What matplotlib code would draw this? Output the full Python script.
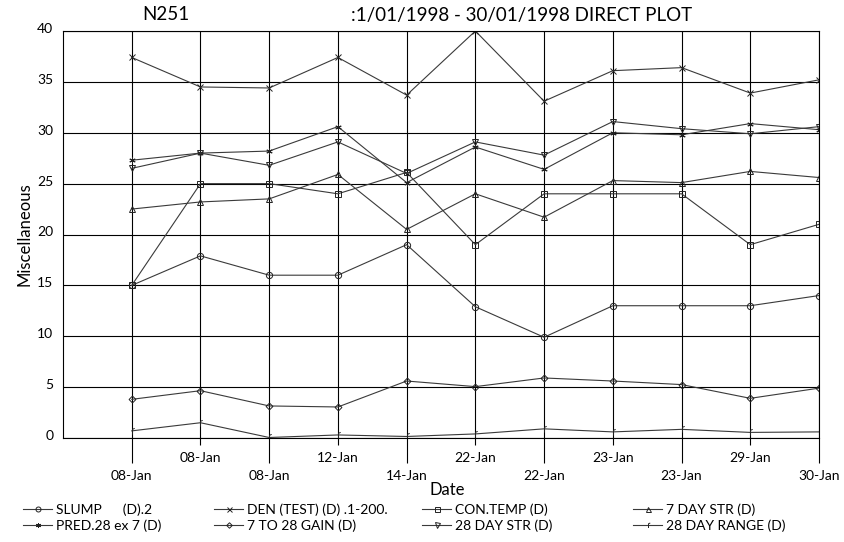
import numpy as np
import matplotlib
matplotlib.use("Agg")
import matplotlib.pyplot as plt
from matplotlib.path import Path
from matplotlib.transforms import ScaledTranslation

plt.rcParams['font.family'] = ['Lato', 'DejaVu Sans']

dates = ["08-Jan", "08-Jan", "08-Jan", "12-Jan", "14-Jan", "22-Jan",
         "22-Jan", "23-Jan", "23-Jan", "29-Jan", "30-Jan"]

slump = [15.0, 17.9, 16.0, 16.0, 19.0, 12.9, 9.9, 13.0, 13.0, 13.0, 14.0]
den_test = [37.4, 34.5, 34.4, 37.4, 33.7, 40.0, 33.1, 36.1, 36.4, 33.9, 35.2]
con_temp = [15.0, 25.0, 25.0, 24.0, 26.1, 19.0, 24.0, 24.0, 24.0, 19.0, 21.0]
str7 = [22.5, 23.2, 23.5, 25.9, 20.5, 24.0, 21.7, 25.3, 25.1, 26.2, 25.6]
pred28 = [27.3, 28.0, 28.2, 30.6, 25.1, 28.6, 26.4, 30.0, 29.8, 30.9, 30.3]
gain = [3.8, 4.65, 3.15, 3.05, 5.6, 5.05, 5.9, 5.6, 5.25, 3.9, 4.9]
str28 = [26.5, 28.0, 26.8, 29.1, 26.0, 29.1, 27.8, 31.1, 30.4, 29.9, 30.6]
range28 = [0.7, 1.5, 0.05, 0.3, 0.15, 0.4, 0.9, 0.6, 0.85, 0.55, 0.6]

# flag-like marker for 28 day range
flag = Path([(0, -1), (0, 0.7), (0.7, 1.0)], [Path.MOVETO, Path.LINETO, Path.LINETO])

series = [
    ("SLUMP      (D).2", slump, "o"),
    ("DEN (TEST) (D) .1-200.", den_test, "x"),
    ("CON.TEMP (D)", con_temp, "s"),
    ("7 DAY STR (D)", str7, "^"),
    ("PRED.28 ex 7 (D)", pred28, (6, 2, 0)),
    ("7 TO 28 GAIN (D)", gain, "D"),
    ("28 DAY STR (D)", str28, "v"),
    ("28 DAY RANGE (D)", range28, flag),
]

fig = plt.figure(figsize=(8.44, 5.42), dpi=100)
ax = fig.add_axes([63/844, 1-438/542, (819-63)/844, (438-31)/542])

x = np.arange(len(dates))
handles = {}
for name, vals, mk in series:
    ms = 4.5 if mk != "D" else 3.5
    h, = ax.plot(x, vals, color="#3a3a3a", lw=0.8, marker=mk, ms=ms,
                 mfc="none", mec="#222222", mew=0.7)
    handles[name] = h

ax.set_xlim(-1, 10)
ax.set_ylim(0, 40)
ax.set_yticks(np.arange(0, 41, 5))
ax.set_xticks(x[::2])
ax.set_xticks(x[1::2], minor=True)
ax.set_xticklabels(dates[::2])
ax.set_xticklabels(dates[1::2], minor=True)
ax.grid(True, which="both", color="black", lw=0.8)
ax.set_axisbelow(True)
# tick lengths are in points (0.72 pt per px here)
ax.tick_params(axis="x", which="major", length=18, width=0.8, color="black",
               pad=5, labelsize=10)
ax.tick_params(axis="x", which="minor", length=5, width=0.8, color="black",
               pad=5, labelsize=10)
ax.tick_params(axis="y", length=0, pad=7, labelsize=10)
for lab in ax.get_yticklabels():
    lab.set_transform(lab.get_transform() + ScaledTranslation(0, 0.03, fig.dpi_scale_trans))
for sp in ax.spines.values():
    sp.set_linewidth(0.8)

ax.set_ylabel("Miscellaneous", fontsize=12)
ax.yaxis.set_label_coords((33-63)/756, 0.5)
fig.text(447/844, 1-490/542, "Date", fontsize=12, ha="center", va="center")

fig.text(166/844, 1-15/542, "N251", fontsize=13.5, ha="center", va="center")
fig.text(522/844, 1-15/542, ":1/01/1998 - 30/01/1998 DIRECT PLOT", fontsize=13.5,
         ha="center", va="center")

cols = [
    (23, ["SLUMP      (D).2", "PRED.28 ex 7 (D)"]),
    (214, ["DEN (TEST) (D) .1-200.", "7 TO 28 GAIN (D)"]),
    (422, ["CON.TEMP (D)", "28 DAY STR (D)"]),
    (633, ["7 DAY STR (D)", "28 DAY RANGE (D)"]),
]
for x0, names in cols:
    fig.legend([handles[n] for n in names], names, loc="upper left",
               bbox_to_anchor=(x0/844, 1-503/542), frameon=False,
               fontsize=10, handlelength=2.1, handletextpad=0.25,
               borderpad=0, borderaxespad=0, labelspacing=0.25,
               markerscale=0.8)

fig.savefig("out.png", dpi=100)
